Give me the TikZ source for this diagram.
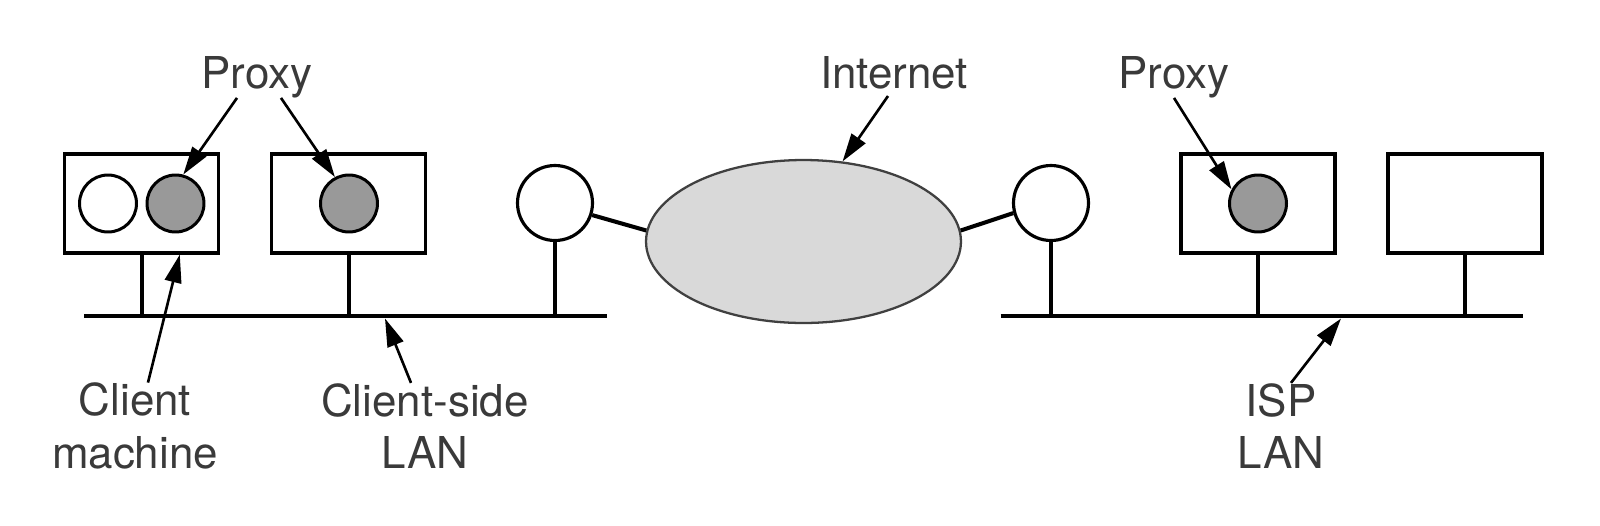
\documentclass[tikz,border=0pt]{standalone}
\usepackage{fontspec}
\setmainfont{TeX Gyre Heros}
\usepackage{xcolor}
\usetikzlibrary{arrows.meta, shapes.geometric, positioning}
\definecolor{labelgray}{HTML}{3A3A3A}
\definecolor{proxygray}{HTML}{999999}
\definecolor{cloudgray}{HTML}{D9D9D9}
\tikzset{
    host/.style ={rectangle, draw, line width=1.8pt, minimum width=3.08cm, minimum height=1.98cm},
    proc/.style ={circle, draw, line width=1.7pt, minimum size=1.14cm, inner sep=0pt},
    proxy/.style ={proc, fill=proxygray},
    router/.style ={circle, draw, line width=1.8pt, minimum size=1.5cm, inner sep=0pt},
    cloud/.style ={ellipse, draw=black!75, fill=cloudgray, line width=1.3pt,
                   minimum width=6.3cm, minimum height=3.26cm, inner sep=0pt},
    lbl/.style ={text=labelgray, font=\fontsize{25}{30}\selectfont, align=center, inner sep=0pt},
    pointer/.style ={-{Triangle[length=16pt,width=9.5pt]}, line width=1.5pt},
    wire/.style ={line width=2pt},
    link/.style ={line width=2.3pt},
    bus/.style ={line width=2.3pt}
    }

\begin{document}
\begin{tikzpicture}[x=0.02cm, y=-0.02cm]
    \useasboundingbox (0,0) rectangle (1600,525);

    % machines on the client side
    \node[host] (h1) at (141.8,203.5) {};
    \node[host] (h2) at (348.8,203.5) {};
    \node[proc] (c1) at (108,203.5) {};
    \node[proxy] (p1) at (175.5,203.5) {};
    \node[proxy] (p2) at (349,203.5) {};
    \node[router] (r1) at (555,203) {};

    % the internet
    \node[cloud] (net) at (803.5,241.5) {};

    % machines on the ISP side
    \node[router] (r2) at (1051,203) {};
    \node[host] (h3) at (1258,203.5) {};
    \node[host] (h4) at (1465,203.5) {};
    \node[proxy] (p3) at (1258,203.5) {};

    % LANs
    \coordinate (lanA) at (84,316);
    \coordinate (lanB) at (607,316);
    \coordinate (lanC) at (1000.6,316);
    \coordinate (lanD) at (1522.5,316);
    \draw[bus] (lanA) -- (lanB);
    \draw[bus] (lanC) -- (lanD);
    \foreach \n in {h1,h2,r1} \draw[wire] (\n.south) -- (\n.south |- lanA);
    \foreach \n in {r2,h3,h4} \draw[wire] (\n.south) -- (\n.south |- lanC);
    \draw[link] (r1.-18) -- (net.176);
    \draw[link] (net.4) -- (r2.195);

    % labels
    \node[lbl, anchor=base] (px1) at (257,88) {Proxy};
    \node[lbl, anchor=base] (inet) at (894,88) {Internet};
    \node[lbl, anchor=base] (px2) at (1174,88) {Proxy};
    \node[lbl] (cm) at (135,426) {Client\\machine};
    \node[lbl] (csl) at (425,426) {Client-side\\LAN};
    \node[lbl] (isp) at (1281,426) {ISP\\LAN};

    \coordinate (tipA) at (385,318.5);
    \coordinate (tipC) at (1341,318.5);

    % pointers
    \path[pointer] ([xshift=-0.4cm]px1.south) edge (p1.75);
    \path[pointer] ([xshift=0.48cm]px1.south) edge (p2.118);
    \path[pointer] ([xshift=-0.12cm, yshift=-0.14cm]inet.south) edge (net.64);
    \path[pointer] (px2.south) edge (p3.152);
    \path[pointer] ([xshift=0.26cm]cm.north) edge ([xshift=0.76cm]h1.south);
    \path[pointer] ([xshift=-0.28cm]csl.north) edge (tipA);
    \path[pointer] ([xshift=0.2cm]isp.north) edge (tipC);
\end{tikzpicture}
\end{document}
